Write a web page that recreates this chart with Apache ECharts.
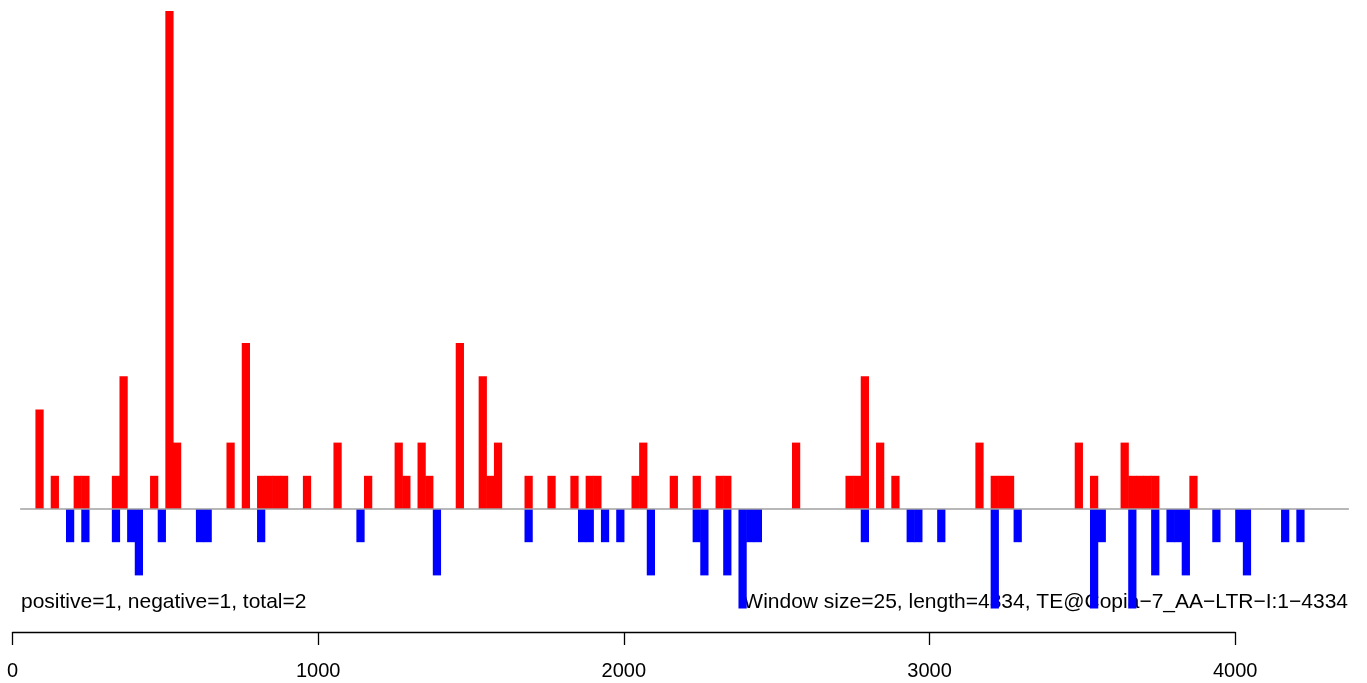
<!DOCTYPE html>
<html>
<head>
<meta charset="utf-8">
<script src="https://cdn.jsdelivr.net/npm/echarts@6/dist/echarts.min.js"></script>
<style>
  html, body { margin: 0; padding: 0; background: #fff; }
  #main { width: 1367px; height: 683px; }
</style>
</head>
<body>
<div id="main"></div>
<script>
// window size 25, sequence length 4334
var winSize = 25;
var seqLength = 4334;

// positive strand windows (window index) and counts
var posWindows = [3, 5, 8, 9, 13, 14, 18, 20, 21, 28, 30, 32, 33, 34, 35, 38, 42, 46, 50, 51, 53, 54, 58, 61, 62, 63, 67, 70, 73, 75, 76, 81, 82, 86, 89, 92, 93, 102, 109, 110, 111, 113, 115, 126, 128, 129, 130, 139, 141, 145, 146, 147, 148, 149, 154];
var posCounts  = [3, 1, 1, 1, 1, 4, 1, 15, 2, 2, 5, 1, 1, 1, 1, 1, 2, 1, 2, 1, 2, 1, 5, 4, 1, 2, 1, 1, 1, 1, 1, 1, 2, 1, 1, 1, 1, 2, 1, 1, 4, 2, 1, 2, 1, 1, 1, 2, 1, 2, 1, 1, 1, 1, 1];

// negative strand windows and counts
var negWindows = [7, 9, 13, 15, 16, 19, 24, 25, 32, 45, 55, 67, 74, 75, 77, 79, 83, 89, 90, 93, 95, 96, 97, 111, 117, 118, 121, 128, 131, 141, 142, 146, 149, 151, 152, 153, 157, 160, 161, 166, 168];
var negCounts  = [1, 1, 1, 1, 2, 1, 1, 1, 1, 1, 2, 1, 1, 1, 1, 1, 2, 1, 2, 2, 3, 1, 1, 1, 1, 1, 1, 3, 1, 3, 1, 3, 2, 1, 1, 2, 1, 1, 2, 1, 1];

var axisTicks = [0, 1000, 2000, 3000, 4000];
var baseline = [[25, 0], [4372, 0]];

var leftText = 'positive=1, negative=1, total=2';
var rightText = 'Window size=25, length=' + seqLength + ', TE@Copia\u22127_AA\u2212LTR\u2212I:1\u2212' + seqLength;

var pxPerUnit = 1222.7 / 4000;

function toData(wins, counts, sign) {
    var out = [];
    for (var i = 0; i < wins.length; i++) {
        out.push([wins[i] * winSize, sign * counts[i]]);
    }
    return out;
}

// rectangles in data space; a hair of overlap so neighbours do not show seams
function renderBar(params, api) {
    var x0 = api.value(0), h = api.value(1);
    var a = api.coord([x0, 0]);
    var b = api.coord([x0 + winSize, h]);
    return {
        type: 'rect',
        shape: { x: a[0], y: Math.min(a[1], b[1]), width: b[0] - a[0] + 0.6, height: Math.abs(b[1] - a[1]) },
        style: { fill: api.visual('color') }
    };
}

var myChart = echarts.init(document.getElementById('main'));

var option = {
    animation: false,
    backgroundColor: '#fff',
    grid: [
        { left: 12.5, top: 11, width: 4400 * pxPerUnit, height: 18 * 33.2 },
        { left: 12.5, top: 600, width: 4000 * pxPerUnit, height: 32 }
    ],
    xAxis: [
        { gridIndex: 0, type: 'value', min: 0, max: 4400, show: false },
        {
            gridIndex: 1, type: 'value', min: 0, max: 4000, interval: 1000,
            position: 'bottom',
            splitLine: { show: false },
            axisLine: { show: true, lineStyle: { color: '#000', width: 1.3 } },
            axisTick: { show: true, length: 13, lineStyle: { color: '#000', width: 1.3 } },
            axisLabel: {
                margin: 29, color: '#000', fontSize: 20, fontFamily: 'Liberation Sans',
                formatter: function (v) { return axisTicks.indexOf(v) >= 0 ? String(v) : ''; }
            }
        }
    ],
    yAxis: [
        { gridIndex: 0, type: 'value', min: -3, max: 15, show: false },
        { gridIndex: 1, type: 'value', min: 0, max: 1, show: false }
    ],
    graphic: [
        {
            type: 'text', z: 0, x: 21, y: 602,
            style: { text: leftText, font: '21px "Liberation Sans"', fill: '#000', align: 'left', verticalAlign: 'middle' }
        },
        {
            type: 'text', z: 0, x: 1348, y: 602,
            style: { text: rightText, font: '21px "Liberation Sans"', fill: '#000', align: 'right', verticalAlign: 'middle' }
        }
    ],
    series: [
        {
            name: 'positive', type: 'custom', xAxisIndex: 0, yAxisIndex: 0, z: 2,
            itemStyle: { color: '#ff0000' },
            renderItem: renderBar,
            data: toData(posWindows, posCounts, 1)
        },
        {
            name: 'negative', type: 'custom', xAxisIndex: 0, yAxisIndex: 0, z: 2,
            itemStyle: { color: '#0000ff' },
            renderItem: renderBar,
            data: toData(negWindows, negCounts, -1)
        },
        {
            name: 'baseline', type: 'line', xAxisIndex: 0, yAxisIndex: 0, z: 3,
            symbol: 'none', silent: true,
            lineStyle: { color: '#a0a0a0', width: 1.5 },
            data: baseline
        }
    ]
};

myChart.setOption(option);
</script>
</body>
</html>
